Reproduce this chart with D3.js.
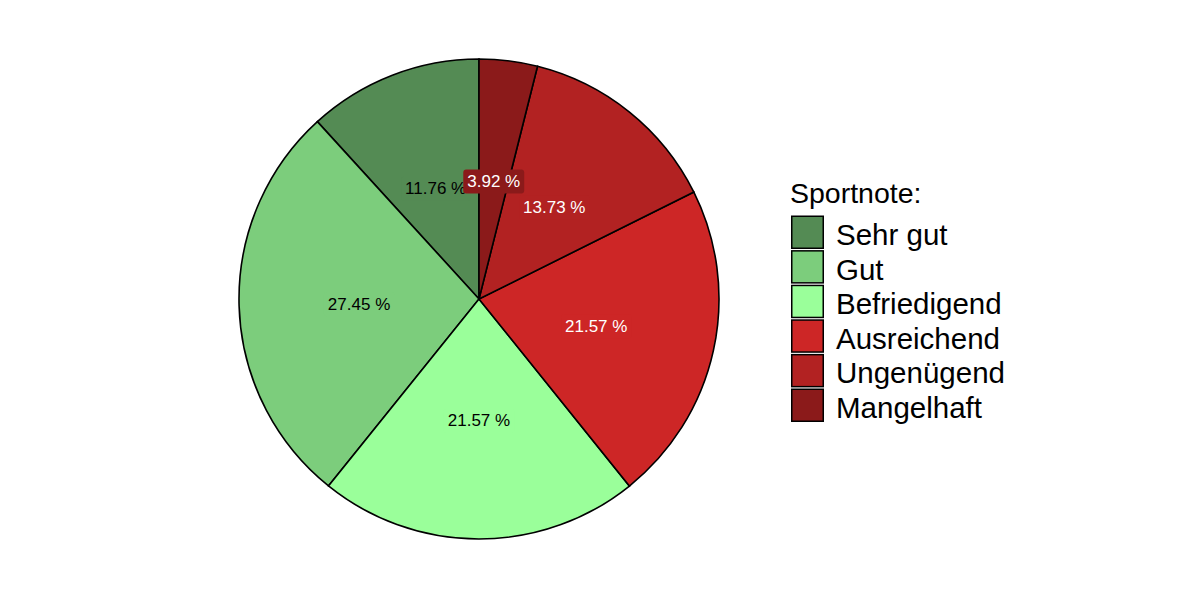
<!DOCTYPE html>
<html>
<head>
<meta charset="utf-8">
<script src="https://cdn.jsdelivr.net/npm/d3@7"></script>
<style>
  body { margin: 0; background: #fff; }
  text { font-family: "Liberation Sans", Arial, sans-serif; }
</style>
</head>
<body>
<svg id="chart" width="1188" height="600"></svg>
<script>
// grade categories and their shares (percent)
var categories = ["Sehr gut", "Gut", "Befriedigend", "Ausreichend", "Ungenügend", "Mangelhaft"];
var percents = [11.76, 27.45, 21.57, 21.57, 13.73, 3.92];
var colors = ["#548B54", "#7CCD7C", "#9AFF9A", "#CD2626", "#B22222", "#8B1A1A"];
var labelColors = ["black", "black", "black", "white", "white", "white"];

var width = 1188, height = 600;
var cx = 479, cy = 299, radius = 240;

var svg = d3.select("#chart");
var g = svg.append("g").attr("transform", "translate(" + cx + "," + cy + ")");

var data = categories.map(function(c, i) { return { name: c, value: percents[i], i: i }; });

// slices run counter-clockwise from 12 o'clock
var pie = d3.pie()
    .value(function(d) { return d.value; })
    .sort(null)
    .startAngle(0)
    .endAngle(-2 * Math.PI);

var arcs = pie(data);
var arc = d3.arc().innerRadius(0).outerRadius(radius);
var labelArc = d3.arc().innerRadius(radius / 2).outerRadius(radius / 2);

g.selectAll("path.slice")
  .data(arcs)
  .enter().append("path")
  .attr("class", "slice")
  .attr("d", arc)
  .attr("fill", function(d) { return colors[d.data.i]; })
  .attr("stroke", "black")
  .attr("stroke-width", 1.6);

// labels with background boxes in the slice colour
var labels = g.selectAll("g.lab")
  .data(arcs)
  .enter().append("g")
  .attr("class", "lab")
  .attr("transform", function(d) { return "translate(" + labelArc.centroid(d) + ")"; });

labels.each(function(d) {
  var sel = d3.select(this);
  var txt = d.data.value.toFixed(2) + " %";
  var t = sel.append("text")
    .attr("text-anchor", "middle")
    .attr("dy", "0.42em")
    .attr("font-size", 17)
    .attr("fill", labelColors[d.data.i])
    .text(txt);
  var bb = t.node().getBBox();
  sel.insert("rect", "text")
    .attr("x", bb.x - 4)
    .attr("y", bb.y - 2.5)
    .attr("width", bb.width + 8)
    .attr("height", bb.height + 5)
    .attr("rx", 3)
    .attr("fill", colors[d.data.i]);
});

// legend
var lx = 791, ly = 215.5, step = 34.6;
svg.append("text")
  .attr("x", lx - 1)
  .attr("y", 203)
  .attr("font-size", 28.5)
  .attr("fill", "black")
  .text("Sportnote:");

var leg = svg.selectAll("g.leg")
  .data(data)
  .enter().append("g")
  .attr("class", "leg")
  .attr("transform", function(d, i) { return "translate(" + lx + "," + (ly + i * step) + ")"; });

leg.append("rect")
  .attr("x", 0.75).attr("y", 0.75)
  .attr("width", 31.5).attr("height", 32)
  .attr("fill", function(d) { return colors[d.i]; })
  .attr("stroke", "black")
  .attr("stroke-width", 1.5);

leg.append("text")
  .attr("x", 45)
  .attr("y", 29.5)
  .attr("font-size", 29.5)
  .attr("fill", "black")
  .text(function(d) { return d.name; });
</script>
</body>
</html>
